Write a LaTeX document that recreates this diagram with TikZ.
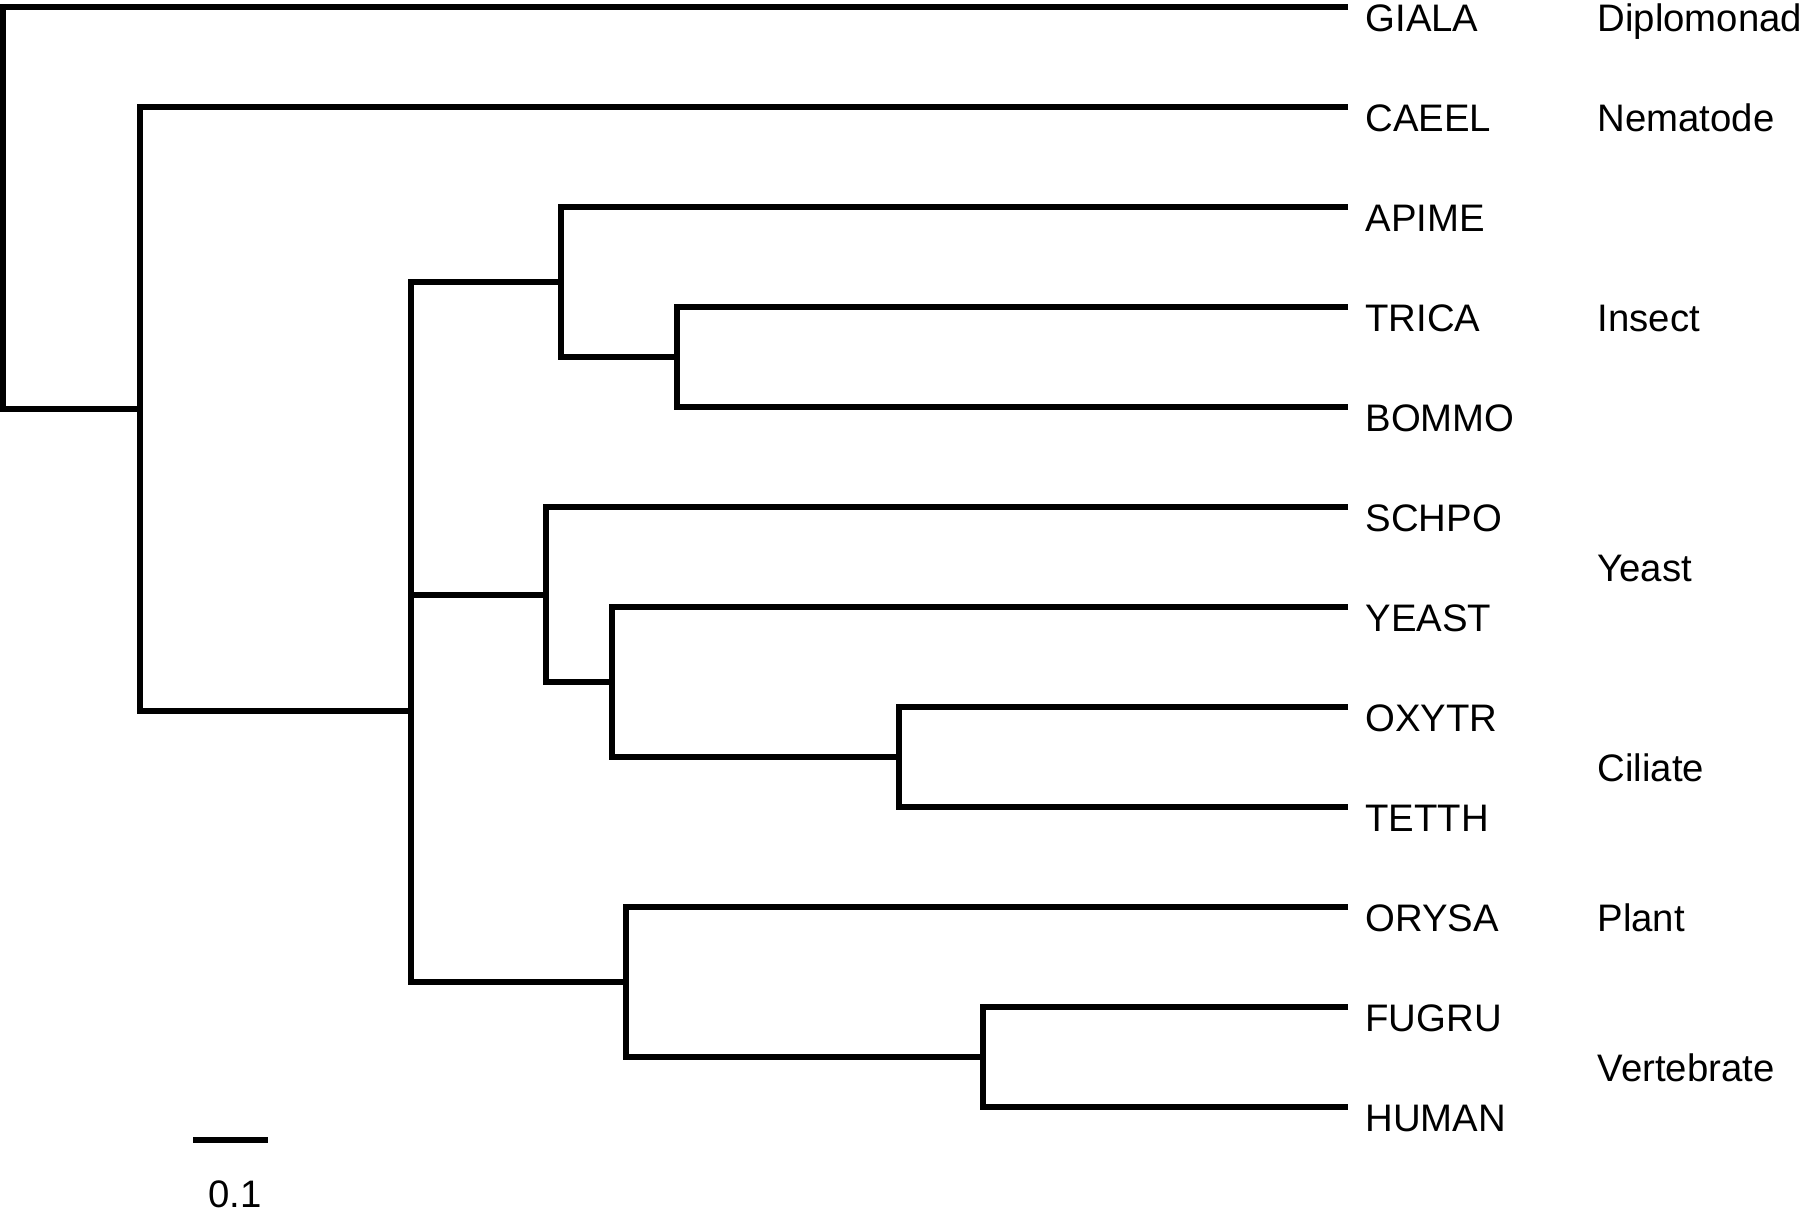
\documentclass[tikz,border=0pt]{standalone}
\usepackage{fontspec}
\setmainfont{Liberation Sans}
\begin{document}
\begin{tikzpicture}[x=0.01cm,y=-0.01cm,line width=1.45pt,
		every node/.style={font=\fontsize{10.9}{13}\selectfont,inner sep=0pt,anchor=base west}]
		\useasboundingbox (0,0) rectangle (1800,1210);

		\foreach \t [count=\i from 0] in {GIALA,CAEEL,APIME,TRICA,BOMMO,SCHPO,YEAST,OXYTR,TETTH,ORYSA,FUGRU,HUMAN} {
				\coordinate (\t) at (1348,{7+100*\i});
				\node (\t-name) at (1363,{31.5+100*\i}) {\t};
			}
		\foreach \g/\y in {Diplomonad/7,Nematode/107,Insect/307,Yeast/557,Ciliate/757,Plant/907,Vertebrate/1057} {
				\node (\g) at (1595,\y+24.5) {\g};
			}

		\coordinate (root) at (3,208);
		\coordinate (A) at (140,409);
		\coordinate (B) at (411,711);
		\coordinate (C) at (561,282);
		\coordinate (D) at (677,357);
		\coordinate (E) at (546,595);
		\coordinate (F) at (612,682);
		\coordinate (G) at (899,757);
		\coordinate (H) at (626,982);
		\coordinate (I) at (983,1057);

		\foreach \a/\n/\b in {GIALA/root/A,CAEEL/A/B,C/B/H,APIME/C/D,TRICA/D/BOMMO,SCHPO/E/F,YEAST/F/G,OXYTR/G/TETTH,ORYSA/H/I,FUGRU/I/HUMAN} {
				\draw (\a) -| (\n) |- (\b);
			}
		\draw (B |- E) -- (E);

		\coordinate (bar-l) at (193,1140);
		\coordinate (bar-r) at (268,1140);
		\draw (bar-l) -- (bar-r);
		\node[anchor=base] (bar-label) at (235,1207) {0.1};
	\end{tikzpicture}
\end{document}
